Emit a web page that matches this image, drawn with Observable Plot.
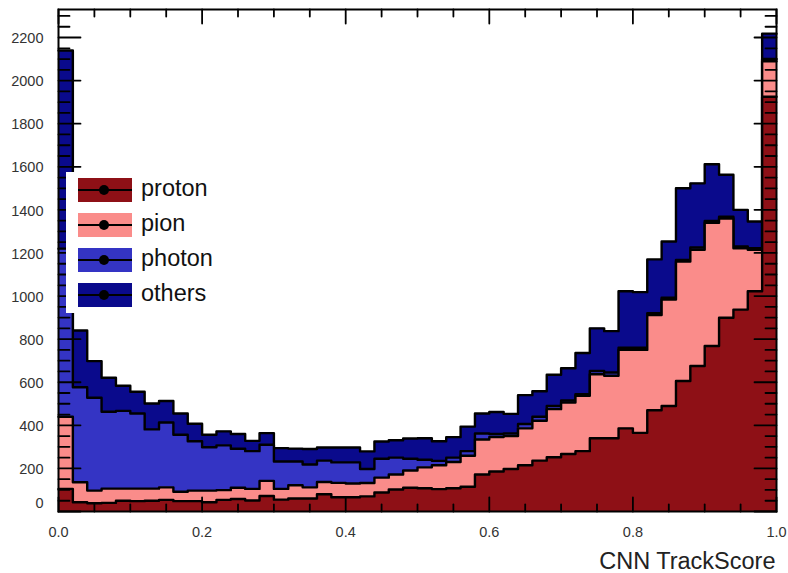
<!DOCTYPE html>
<html>
<head>
<meta charset="utf-8">
<script src="https://cdn.jsdelivr.net/npm/d3@7"></script>
<script src="https://cdn.jsdelivr.net/npm/@observablehq/plot@0.6"></script>
<style>
  body { margin: 0; background: #fff; }
  #chart { position: relative; width: 788px; height: 573px; font-family: "Liberation Sans", Arial, Helvetica, sans-serif; }
  #legend { position: absolute; left: 66px; top: 172px; }
</style>
</head>
<body>
<div id="chart"></div>
<script>
// CNN track score, 50 bins of width 0.02 over [0, 1], stacked by true particle type
const scoreRange = [0, 1];
const nBins = 50;

const proton = [105, 43, 38, 40, 50, 48, 50, 54, 48, 48,
                43, 54, 58, 51, 72, 55, 60, 60, 80, 66,
                66, 70, 88, 102, 110, 108, 104, 108, 115, 172,
                186, 197, 215, 236, 252, 267, 280, 340, 340, 386,
                365, 470, 490, 606, 675, 768, 899, 937, 1022, 1925];
const pion   = [335, 93, 59, 66, 56, 58, 56, 58, 44, 49,
                54, 45, 52, 54, 70, 50, 62, 52, 57, 67,
                64, 62, 69, 70, 80, 97, 111, 122, 144, 162,
                160, 153, 171, 185, 223, 239, 257, 297, 290, 364,
                385, 442, 494, 554, 540, 572, 461, 285, 193, 165];
const photon = [780, 441, 431, 357, 361, 349, 275, 301, 264, 229,
                201, 208, 181, 175, 168, 127, 110, 106, 99, 95,
                98, 65, 88, 78, 55, 35, 20, 20, 21, 28,
                14, 12, 20, 19, 15, 9, 8, 15, 15, 10,
                10, 8, 8, 8, 10, 8, 8, 8, 7, 10];
const others = [920, 263, 170, 158, 117, 101, 120, 100, 99, 81,
                58, 65, 69, 48, 54, 62, 60, 72, 61, 69,
                69, 82, 80, 81, 94, 100, 91, 95, 114, 93,
                102, 91, 134, 118, 145, 150, 191, 198, 192, 262,
                258, 250, 261, 332, 298, 264, 195, 170, 124, 118];

const speciesNames = ["proton", "pion", "photon", "others"];
const speciesColors = ["#8e1016", "#fa8c8a", "#3434c4", "#0a0a8c"];

const xTickValues = [0, 0.2, 0.4, 0.6, 0.8, 1.0];
const xTickLabels = ["0.0", "0.2", "0.4", "0.6", "0.8", "1.0"];
const yTickValues = [0, 200, 400, 600, 800, 1000, 1200, 1400, 1600, 1800, 2000, 2200];
const yMax = 2330;
const axisTitle = "CNN TrackScore";

// ---- derived tables ----
const binWidth = (scoreRange[1] - scoreRange[0]) / nBins;
const series = [proton, pion, photon, others];
// cumulative height of each layer of the stack
const cumulative = series.map((_, k) =>
  proton.map((_, i) => d3.sum(series.slice(0, k + 1), s => s[i])));
// step outline of a histogram: two points per bin (left edge, right edge)
const stepPoints = level => level.flatMap((v, i) => [
  {x: scoreRange[0] + i * binWidth, y: v},
  {x: scoreRange[0] + (i + 1) * binWidth, y: v}
]);

const xMinor = d3.range(0, 1.0001, 0.05).filter(v => !xTickValues.some(t => Math.abs(t - v) < 1e-9));
const yMinor = d3.range(0, yMax, 50).filter(v => v % 200 !== 0);

// stack drawn from the top layer down, each filled and outlined
const layerMarks = [];
for (let k = series.length - 1; k >= 0; k--) {
  const pts = stepPoints(cumulative[k]);
  layerMarks.push(Plot.areaY(pts, {x: "x", y1: 0, y2: "y", fill: speciesColors[k]}));
  layerMarks.push(Plot.line(pts, {x: "x", y: "y", stroke: "black", strokeWidth: 2.4}));
}

// inward tick marks: a straight segment starting on the frame edge
const tickShape = {draw(context, l) { context.moveTo(0, 0); context.lineTo(0, -l); }};
const tickW = 1.8;
const xTicks = (values, anchor, len) => Plot.vector(values, {
  x: d => d, frameAnchor: anchor, length: len, rotate: anchor === "bottom" ? 0 : 180,
  anchor: "start", shape: tickShape, stroke: "black", strokeWidth: tickW
});
const yTicks = (values, anchor, len) => Plot.vector(values, {
  y: d => d, frameAnchor: anchor, length: len, rotate: anchor === "left" ? 90 : -90,
  anchor: "start", shape: tickShape, stroke: "black", strokeWidth: tickW
});

const labelFont = 14.5;
const labelColor = "#333";

const chart = Plot.plot({
  width: 788,
  height: 573,
  marginLeft: 58,
  marginRight: 12,
  marginTop: 9,
  marginBottom: 62,
  style: {fontFamily: '"Liberation Sans", Arial, Helvetica, sans-serif', background: "#fff"},
  x: {domain: scoreRange, label: null, axis: null},
  y: {domain: [0, yMax], label: null, axis: null},
  marks: [
    ...layerMarks,
    xTicks(xTickValues, "bottom", 14),
    xTicks(xMinor, "bottom", 7),
    xTicks(xTickValues, "top", 14),
    xTicks(xMinor, "top", 7),
    yTicks(yTickValues, "left", 22),
    yTicks(yMinor, "left", 11),
    yTicks(yTickValues, "right", 22),
    yTicks(yMinor, "right", 11),
    // tick labels
    Plot.text(xTickValues, {x: d => d, text: (d, i) => xTickLabels[i], frameAnchor: "bottom",
      lineAnchor: "middle", dy: 21, fontSize: labelFont, fill: labelColor}),
    Plot.text(yTickValues, {y: d => d, text: d => String(d), frameAnchor: "left",
      textAnchor: "end", lineAnchor: "middle", dx: -15, dy: 1,
      fontSize: labelFont, fill: labelColor, filter: d => d > 0}),
    Plot.text(yTickValues, {y: d => d, text: d => String(d), frameAnchor: "left",
      textAnchor: "end", lineAnchor: "middle", dx: -15, dy: -8,
      fontSize: labelFont, fill: labelColor, filter: d => d === 0}),
    Plot.text([axisTitle], {frameAnchor: "bottom-right", textAnchor: "end", lineAnchor: "middle",
      dy: 50, dx: -1, fontSize: 23.5, fill: "#222"}),
    Plot.frame({stroke: "black", strokeWidth: 2})
  ]
});

const root = document.getElementById("chart");
root.appendChild(chart);

// legend box drawn inside the frame, top-left
const lg = d3.select(root).append("svg")
  .attr("id", "legend")
  .attr("width", 165)
  .attr("height", 141);
lg.append("rect").attr("width", 165).attr("height", 141).attr("fill", "#fff");
speciesNames.forEach((name, k) => {
  const cy = 18 + k * 35;
  const g = lg.append("g");
  g.append("rect").attr("x", 12).attr("y", cy - 12).attr("width", 54).attr("height", 24)
    .attr("fill", speciesColors[k]);
  g.append("line").attr("x1", 12).attr("x2", 66).attr("y1", cy).attr("y2", cy)
    .attr("stroke", "black").attr("stroke-width", 2);
  g.append("circle").attr("cx", 38).attr("cy", cy).attr("r", 5).attr("fill", "black");
  g.append("text").attr("x", 75).attr("y", cy + 6).text(name)
    .attr("font-size", 23.5).attr("fill", "#111")
    .attr("font-family", '"Liberation Sans", Arial, Helvetica, sans-serif');
});
</script>
</body>
</html>
